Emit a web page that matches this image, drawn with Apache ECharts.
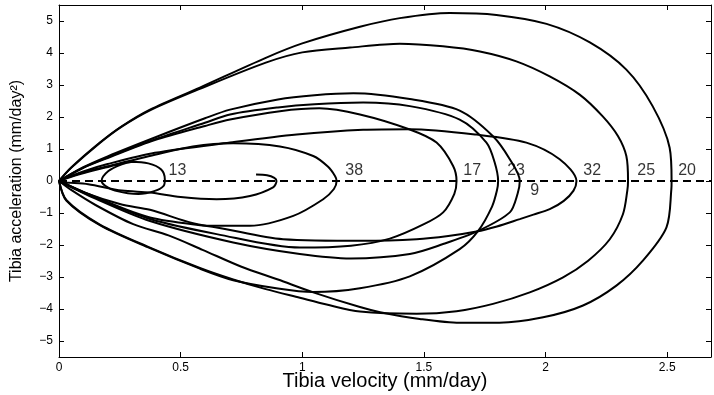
<!DOCTYPE html>
<html>
<head>
<meta charset="utf-8">
<script src="https://cdn.jsdelivr.net/npm/echarts@6/dist/echarts.min.js"></script>
<style>
html, body { margin: 0; padding: 0; background: #fff; }
#chart { width: 714px; height: 395px; }
</style>
</head>
<body>
<div id="chart"></div>
<script>
// phase curves, points are [velocity, acceleration]
var c20 = [[0,0],[0.05,0.42],[0.168,1.2],[0.258,1.71],[0.374,2.23],[0.579,2.92],[0.85,3.85],[1.0,4.3],[1.237,4.82],[1.401,5.09],[1.606,5.25],[1.798,5.19],[2.004,4.91],[2.182,4.33],[2.332,3.48],[2.44,2.34],[2.51,1.04],[2.518,0],[2.517,-0.26],[2.497,-1.45],[2.40,-2.49],[2.291,-3.27],[2.154,-3.89],[1.99,-4.26],[1.81,-4.43],[1.647,-4.43],[1.483,-4.31],[1.32,-4.1],[1.237,-3.94],[1.045,-3.48],[0.9,-3.08],[0.75,-2.68],[0.59,-2.15],[0.45,-1.7],[0.305,-1.35],[0.15,-0.75],[0.05,-0.28],[0,0]];
var c25 = [[0,0],[0.05,0.41],[0.168,1.19],[0.258,1.7],[0.374,2.21],[0.579,2.88],[0.85,3.7],[1.0,4.02],[1.196,4.17],[1.401,4.29],[1.578,4.21],[1.73,4.05],[1.88,3.74],[2.017,3.27],[2.14,2.70],[2.235,2.02],[2.298,1.40],[2.332,0.78],[2.339,0],[2.336,-0.3],[2.318,-1.04],[2.264,-1.82],[2.175,-2.49],[2.072,-3.01],[1.935,-3.48],[1.784,-3.84],[1.634,-4.07],[1.47,-4.15],[1.237,-4.08],[1.1,-3.86],[0.99,-3.65],[0.85,-3.38],[0.716,-3.08],[0.579,-2.72],[0.374,-2.08],[0.168,-1.36],[0.031,-0.6],[0,0]];
var c32 = [[0,0],[0.1,0.3],[0.2,0.53],[0.394,0.88],[0.703,1.2],[0.977,1.45],[1.25,1.6],[1.442,1.62],[1.716,1.45],[1.921,1.2],[2.058,0.68],[2.127,0],[2.115,-0.3],[2.075,-0.62],[2.017,-0.88],[1.95,-1.05],[1.894,-1.19],[1.8,-1.42],[1.716,-1.58],[1.6,-1.72],[1.47,-1.82],[1.25,-1.87],[0.921,-1.82],[0.648,-1.45],[0.374,-1.14],[0.15,-0.5],[0,0]];
var c9 = [[0,0],[0.1,0.43],[0.2,0.77],[0.394,1.36],[0.6,1.96],[0.703,2.23],[0.9,2.55],[1.05,2.68],[1.21,2.74],[1.442,2.56],[1.647,2.2],[1.784,1.40],[1.853,0.68],[1.894,0],[1.885,-0.4],[1.853,-0.98],[1.723,-1.56],[1.579,-1.97],[1.442,-2.28],[1.2,-2.42],[0.99,-2.28],[0.716,-1.92],[0.374,-1.25],[0.15,-0.55],[0,0]];
var c23 = [[0,0],[0.1,0.42],[0.2,0.74],[0.394,1.3],[0.6,1.82],[0.703,2.08],[0.9,2.3],[1.05,2.4],[1.25,2.45],[1.442,2.34],[1.647,1.92],[1.757,1.2],[1.79,0.6],[1.805,0],[1.80,-0.3],[1.78,-0.8],[1.723,-1.56],[1.647,-2.13],[1.442,-2.98],[1.237,-3.35],[1.045,-3.47],[0.9,-3.36],[0.716,-3.1],[0.579,-2.74],[0.374,-2.1],[0.168,-1.38],[0.031,-0.62],[0,0]];
var c17 = [[0,0],[0.1,0.41],[0.2,0.72],[0.394,1.28],[0.6,1.72],[0.703,1.92],[0.908,2.18],[1.07,2.27],[1.237,2.08],[1.442,1.61],[1.552,1.2],[1.62,0.47],[1.634,0],[1.625,-0.4],[1.579,-0.98],[1.50,-1.35],[1.36,-1.8],[1.2,-2.02],[0.99,-2.08],[0.648,-1.66],[0.374,-1.19],[0.15,-0.52],[0,0]];
var c38 = [[0.81,0.2],[0.855,0.18],[0.885,0.1],[0.894,0],[0.88,-0.2],[0.785,-0.47],[0.648,-0.57],[0.5,-0.5],[0.374,-0.36],[0.258,-0.3],[0.12,-0.1],[0,0],[0.1,0.27],[0.2,0.46],[0.394,0.82],[0.55,1.08],[0.716,1.18],[0.908,1.08],[1.045,0.78],[1.105,0.45],[1.135,0.15],[1.141,0],[1.13,-0.25],[1.086,-0.57],[0.963,-1.09],[0.785,-1.40],[0.62,-1.40],[0.374,-0.9],[0.25,-0.72],[0.1,-0.35],[0,0]];
var c13 = [[0,0],[0.08,0.2],[0.19,0.42],[0.3,0.6],[0.367,0.55],[0.42,0.36],[0.435,0.05],[0.43,-0.15],[0.394,-0.31],[0.326,-0.41],[0.23,-0.3],[0.19,-0.15],[0.175,0],[0.203,0.31],[0.258,0.52],[0.3,0.6]];

var zeroLine = [[0,0],[2.68,0]];
var xTicks = [0, 0.5, 1, 1.5, 2, 2.5];
var yTicks = [-5, -4, -3, -2, -1, 0, 1, 2, 3, 4, 5];

var tagNames = ['13', '38', '17', '23', '9', '32', '25', '20'];
var tagX = [0.448, 1.175, 1.66, 1.84, 1.935, 2.153, 2.375, 2.543];
var tagY = [0.31, 0.31, 0.31, 0.31, -0.3, 0.31, 0.31, 0.31];

var FONT = 'Liberation Sans, Arial, Helvetica, sans-serif';

function curve(name, pts) {
  return {
    name: name, type: 'line', data: pts, smooth: 0.3, symbol: 'none',
    lineStyle: { color: '#000', width: 2 }, silent: true, z: 3
  };
}

function yFmt(v) { return v < 0 ? '\u2212' + (-v) : String(v); }

var mychart = echarts.init(document.getElementById('chart'));
var axisLine = { onZero: false, lineStyle: { color: '#000', width: 1 } };

var option = {
  animation: false,
  backgroundColor: '#fff',
  grid: { left: 59, right: 3, top: 5, bottom: 38, outerBoundsMode: 'none', containLabel: false },
  xAxis: [{
    type: 'value', min: 0, max: 2.68, position: 'bottom',
    axisLine: axisLine,
    axisTick: { inside: true, length: 5, customValues: xTicks, lineStyle: { color: '#000' } },
    axisLabel: { customValues: xTicks, color: '#000', fontSize: 12, margin: 5, fontFamily: FONT },
    splitLine: { show: false },
    name: 'Tibia velocity (mm/day)', nameLocation: 'middle', nameGap: 14, nameMoveOverlap: false,
    nameTextStyle: { fontSize: 20, color: '#000', fontFamily: FONT }
  }, {
    type: 'value', min: 0, max: 2.68, position: 'top',
    axisLine: axisLine,
    axisTick: { inside: true, length: 5, customValues: xTicks, lineStyle: { color: '#000' } },
    axisLabel: { show: false }, splitLine: { show: false }
  }],
  yAxis: [{
    type: 'value', min: -5.5, max: 5.5, position: 'left',
    axisLine: axisLine,
    axisTick: { inside: true, length: 5, customValues: yTicks, lineStyle: { color: '#000' } },
    axisLabel: { customValues: yTicks, formatter: yFmt, color: '#000', fontSize: 12, margin: 6, fontFamily: FONT },
    splitLine: { show: false },
    name: 'Tibia acceleration (mm/day\u00B2)', nameLocation: 'middle', nameGap: 34, nameMoveOverlap: false,
    nameTextStyle: { fontSize: 16, color: '#000', fontFamily: FONT }
  }, {
    type: 'value', min: -5.5, max: 5.5, position: 'right',
    axisLine: axisLine,
    axisTick: { inside: true, length: 5, customValues: yTicks, lineStyle: { color: '#000' } },
    axisLabel: { show: false }, splitLine: { show: false }
  }],
  series: [
    {
      name: 'zero', type: 'line', data: zeroLine, symbol: 'none', silent: true, z: 2,
      lineStyle: { color: '#000', width: 2, type: [8, 5] }
    },
    curve('20', c20), curve('25', c25), curve('32', c32), curve('9', c9),
    curve('23', c23), curve('17', c17), curve('38', c38), curve('13', c13),
    {
      name: 'tags', type: 'scatter', symbolSize: 1, silent: true, z: 5,
      itemStyle: { color: 'rgba(0,0,0,0)' },
      data: tagNames.map(function (n, i) { return [tagX[i], tagY[i], n]; }),
      label: {
        show: true, position: 'right', distance: 0, color: '#000',
        fontSize: 16, fontFamily: FONT,
        formatter: function (p) { return p.value[2]; }
      }
    }
  ]
};

mychart.setOption(option);
</script>
</body>
</html>
